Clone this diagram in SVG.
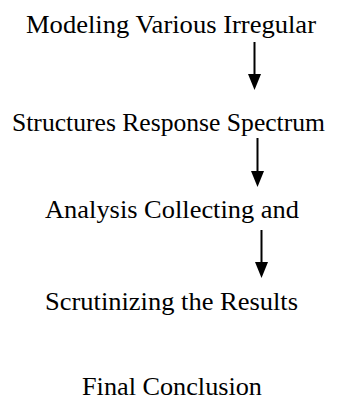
<svg xmlns="http://www.w3.org/2000/svg" width="338" height="401" viewBox="0 0 338 401">
  <style>
    .step { font-family: "Liberation Serif", "Times New Roman", "DejaVu Serif", serif; font-size: 26px; fill: #000; }
    .link { stroke: #000; stroke-width: 2; fill: none; }
    .head { fill: #000; }
  </style>
  <rect width="338" height="401" fill="#fff"/>

  <g id="step-modeling">
    <text class="step" x="26" y="33" textLength="290" lengthAdjust="spacingAndGlyphs">Modeling Various Irregular</text>
  </g>
  <g id="step-structures">
    <text class="step" x="12" y="131" textLength="313" lengthAdjust="spacingAndGlyphs">Structures Response Spectrum</text>
  </g>
  <g id="step-analysis">
    <text class="step" x="45" y="218" textLength="254" lengthAdjust="spacingAndGlyphs">Analysis Collecting and</text>
  </g>
  <g id="step-scrutinizing">
    <text class="step" x="45" y="310" textLength="253" lengthAdjust="spacingAndGlyphs">Scrutinizing the Results</text>
  </g>
  <g id="step-conclusion">
    <text class="step" x="82" y="395" textLength="180" lengthAdjust="spacingAndGlyphs">Final Conclusion</text>
  </g>

  <!-- downward arrows between the steps -->
  <g id="connectors">
    <line class="link" x1="254.5" y1="42" x2="254.5" y2="76"/>
    <path class="head" d="M248,74 L261,74 L254.5,90 Z"/>
    <line class="link" x1="257.5" y1="138" x2="257.5" y2="173"/>
    <path class="head" d="M251,171 L264,171 L257.5,187 Z"/>
    <line class="link" x1="261.5" y1="230" x2="261.5" y2="264"/>
    <path class="head" d="M255,262 L268,262 L261.5,278 Z"/>
  </g>
</svg>
